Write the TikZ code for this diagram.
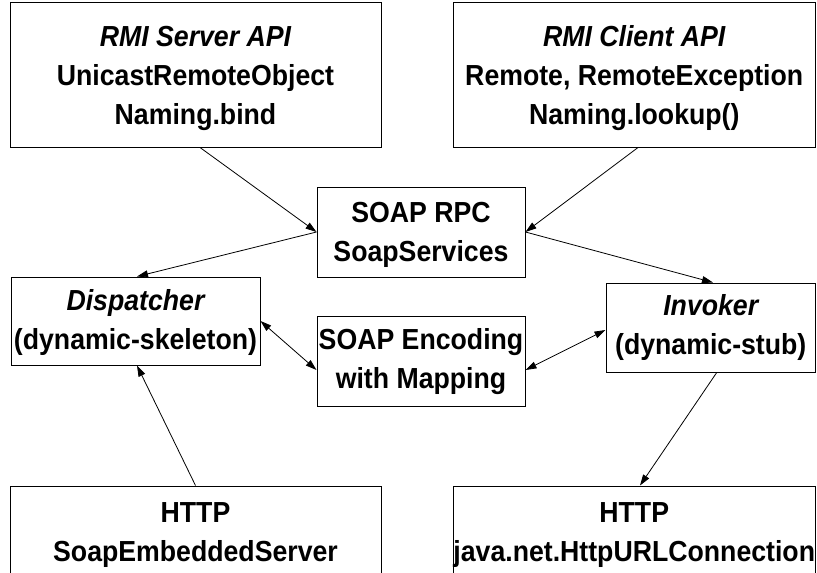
\documentclass[tikz,border=0pt]{standalone}
\usepackage{fontspec}
\setmainfont{Liberation Sans}[FakeStretch=0.92]
\usetikzlibrary{arrows.meta,calc}
\tikzset{
  frame/.style={draw=black, line width=1pt, fill=white, rectangle, inner sep=0pt},
  txt/.style={inner sep=0pt, align=center, font=\fontsize{29}{39}\selectfont\bfseries},
  conn/.style={line width=0.8pt, -{Triangle[length=11pt,width=7pt]}},
  biconn/.style={line width=0.8pt, {Triangle[length=11pt,width=7pt]}-{Triangle[length=11pt,width=7pt]}}
}
\begin{document}
\begin{tikzpicture}[x=1pt,y=-1pt]
\useasboundingbox (0,0) rectangle (817,573);
\fill[white] (0,0) rectangle (817,573);
\clip (0,0) rectangle (817,573);

% frames
\node[frame, minimum width=371pt, minimum height=145pt] (srv) at (195.5,74.5) {};
\node[frame, minimum width=362.5pt, minimum height=145pt] (cli) at (634.25,74.5) {};
\node[frame, minimum width=208pt, minimum height=90pt] (rpc) at (421,232) {};
\node[frame, minimum width=249pt, minimum height=88pt] (disp) at (135.5,321) {};
\node[frame, minimum width=208pt, minimum height=90pt] (enc) at (421,361) {};
\node[frame, minimum width=209.5pt, minimum height=89pt] (inv) at (710.75,327.5) {};
\node[frame, minimum width=371pt, minimum height=90pt] (hsrv) at (195.5,531) {};
\node[frame, minimum width=362.5pt, minimum height=90pt] (hcli) at (634.25,531) {};

% texts
\node[txt] (srvT) at ([yshift=-4pt]srv.center)
  {\itshape RMI Server API\\UnicastRemoteObject\\Naming.bind};
\node[txt] (cliT) at ([yshift=-4pt]cli.center)
  {\itshape RMI Client API\\Remote, RemoteException\\Naming.lookup()};
\node[txt] (rpcT) at ([yshift=-3pt]rpc.center) {SOAP RPC\\SoapServices};
\node[txt] (dispT) at ([yshift=-1.5pt]disp.center) {\itshape Dispatcher\\(dynamic-skeleton)};
\node[txt] (encT) at ([yshift=-0.5pt]enc.center) {SOAP Encoding\\with Mapping};
\node[txt] (invT) at (inv.center) {\itshape Invoker\\(dynamic-stub)};
\node[txt] (hsrvT) at ([yshift=-4pt]hsrv.center) {HTTP\\SoapEmbeddedServer};
\node[txt] (hcliT) at ([yshift=-4pt]hcli.center) {HTTP\\java.net.HttpURLConnection};

% connectors
\draw[conn] ([xshift=4.5pt]srv.south) -- (rpc.west);
\draw[conn] ([xshift=3.75pt]cli.south) -- (rpc.east);
\draw[conn] (rpc.west) -- ([xshift=1.5pt]disp.north);
\draw[conn] (rpc.east) -- ([xshift=2.25pt]inv.north);
\draw[biconn] (disp.east) -- ([yshift=-9pt]enc.west);
\draw[biconn] ([yshift=-9pt]enc.east) -- ([yshift=-2.5pt]inv.west);
\draw[conn] (hsrv.north) -- ([xshift=1.5pt]disp.south);
\draw[conn] ([xshift=6pt]inv.south) -- ([xshift=5.75pt]hcli.north);
\end{tikzpicture}
\end{document}
